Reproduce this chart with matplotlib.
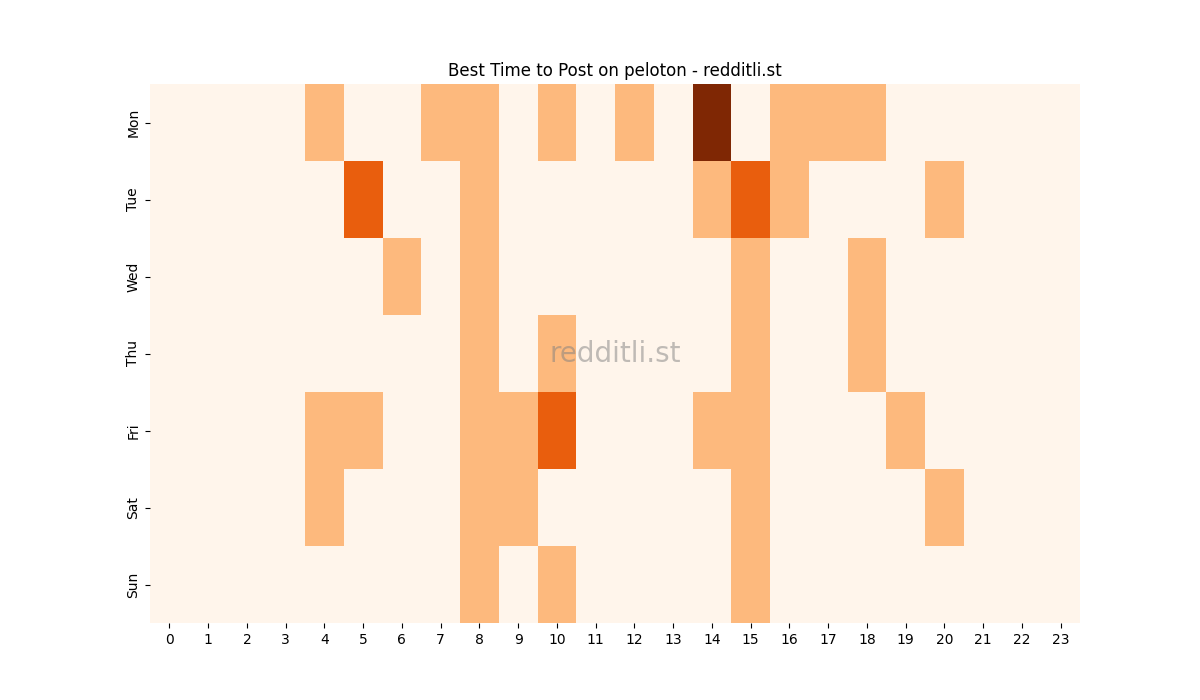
import matplotlib
matplotlib.use("Agg")
import matplotlib.pyplot as plt
import seaborn as sns
import numpy as np

days = ["Mon", "Tue", "Wed", "Thu", "Fri", "Sat", "Sun"]
hours = list(range(24))
mon = [0,0,0,0,1,0,0,1,1,0,1,0,1,0,3,0,1,1,1,0,0,0,0,0]
tue = [0,0,0,0,0,2,0,0,1,0,0,0,0,0,1,2,1,0,0,0,1,0,0,0]
wed = [0,0,0,0,0,0,1,0,1,0,0,0,0,0,0,1,0,0,1,0,0,0,0,0]
thu = [0,0,0,0,0,0,0,0,1,0,1,0,0,0,0,1,0,0,1,0,0,0,0,0]
fri = [0,0,0,0,1,1,0,0,1,1,2,0,0,0,1,1,0,0,0,1,0,0,0,0]
sat = [0,0,0,0,1,0,0,0,1,1,0,0,0,0,0,1,0,0,0,0,1,0,0,0]
sun = [0,0,0,0,0,0,0,0,1,0,1,0,0,0,0,1,0,0,0,0,0,0,0,0]

data = np.array([mon, tue, wed, thu, fri, sat, sun])

fig, ax = plt.subplots(figsize=(12, 7), dpi=100)
sns.heatmap(data, cmap="Oranges", cbar=False, ax=ax, xticklabels=hours, yticklabels=days)
ax.set_title("Best Time to Post on peloton - redditli.st")
ax.set_yticklabels(days, rotation=90, va="center")
ax.set_xticklabels(hours, rotation=0)
ax.text(0.5, 0.5, "redditli.st", transform=ax.transAxes, ha="center", va="center",
        fontsize=20, color="grey", alpha=0.5)
fig.savefig("out.png")
